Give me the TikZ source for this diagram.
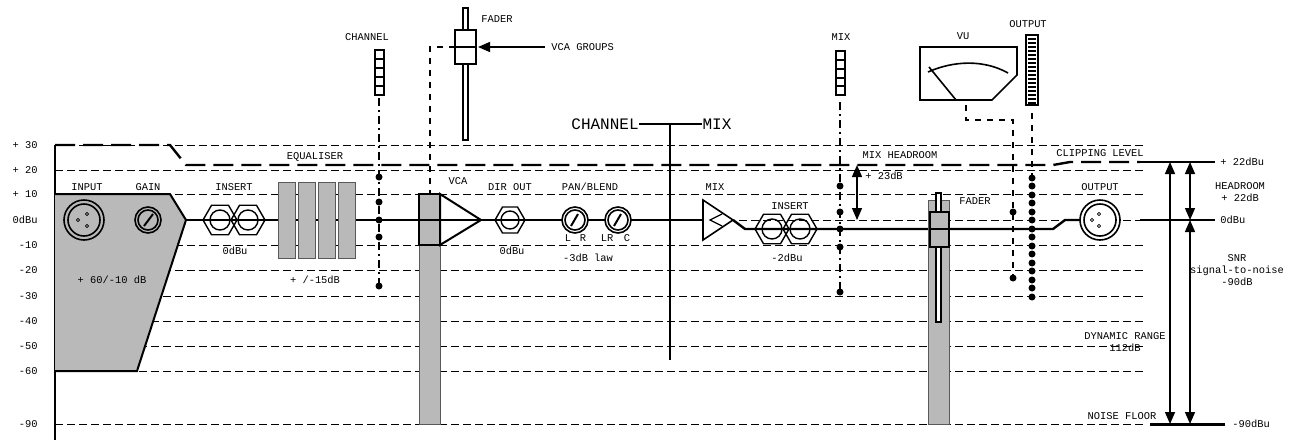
\documentclass[tikz,border=0pt]{standalone}
\usepackage{fontspec}
\setmainfont{Liberation Mono}
\usetikzlibrary{arrows.meta,shapes.geometric}
\begin{document}
\begin{tikzpicture}[x=0.5pt,y=-0.5pt,
 lbl/.style={font=\fontsize{5.2}{6}\selectfont,inner sep=0pt},
 grid/.style={dashed,line width=0.5pt,dash pattern=on 4pt off 2pt},
 sig/.style={line width=1.2pt},
 hexj/.style={regular polygon,regular polygon sides=6,draw,line width=0.7pt,minimum size=17pt,inner sep=0pt},
 dot/.style={circle,fill,inner sep=0pt,minimum size=3.5pt},
 grey/.style={fill=gray!55,draw=gray!70!black,line width=0.5pt},
 ddash/.style={line width=0.7pt,dash pattern=on 4pt off 2pt on 1pt off 2pt},
 arr/.style={-{Triangle[length=6pt,width=5pt]},line width=0.7pt}]
\useasboundingbox (0,0) rectangle (1293,445);
% levels
\foreach \y/\t in {145/+ 30,170/+ 20,194/+ 10,220/0dBu,245/-10,270/-20,296/-30,321/-40,346/-50,371/-60,424/-90}{
 \draw[grid] (55,\y) -- (1146,\y);
 \node[lbl,anchor=east] at (38,\y) {\t};}
\draw[line width=0.7pt] (55,145) -- (55,440);
% input block
\fill[gray!55] (55,194) -- (170,194) -- (186,220) -- (137,371) -- (55,371) -- cycle;
\draw[line width=1pt] (55,194) -- (170,194) -- (186,220) -- (137,371) -- (55,371);
\draw[line width=0.8pt] (84,220) circle (20) (84,220) circle (16);
\foreach \p in {(78,220),(87,214),(87,226)} \draw[line width=0.4pt] \p circle (1.6);
\draw[line width=0.8pt] (148,220) circle (13) (148,220) circle (10);
\draw[line width=1pt] (144,226) -- (153,214);
\node[lbl] at (87,187) {INPUT};
\node[lbl] at (148,187) {GAIN};
\node[lbl] at (112,280) {+ 60/-10 dB};
% clipping
\draw[line width=1.2pt,dash pattern=on 10pt off 4pt] (55,145) -- (170,145) -- (186,165) -- (1053,165) -- (1070,162) -- (1140,162);
\draw[line width=1pt] (1140,162) -- (1215,162);
\node[lbl,anchor=west] at (1220,162) {+ 22dBu};
\node[lbl] at (315,157) {EQUALISER};
\node[lbl] at (1100,153) {CLIPPING LEVEL};
% signal line
\draw[sig] (186,220) -- (703,220);
\draw[sig] (733,220) -- (745,229) -- (1053,229) -- (1065,220) -- (1080,220);
\draw[line width=1pt] (1140,220) -- (1215,220);
\node[lbl,anchor=west] at (1220,220) {0dBu};
% insert
\node[hexj] (i1) at (220,220) {}; \draw[line width=0.7pt] (220,220) circle (10);
\node[hexj] (i2) at (248,220) {}; \draw[line width=0.7pt] (248,220) circle (10);
\node[lbl] at (234,187) {INSERT};
\node[lbl] at (235,251) {0dBu};
% EQ
\foreach \x in {278,298,318,338} \draw[grey] (\x,182) rectangle (\x+17,258);
\node[lbl] at (315,280) {+ /-15dB};
% channel meter
\draw[line width=0.8pt,fill=white] (375,50) rectangle (384,95);
\foreach \y in {59,68,77,86} \draw[line width=0.8pt] (375,\y) -- (384,\y);
\node[lbl] at (367,37) {CHANNEL};
\draw[ddash] (379,98) -- (379,286);
\foreach \y in {177,202,220,237,286} \node[dot] at (379,\y) {};
% VCA
\draw[grey] (419,194) rectangle (440,424);
\draw[line width=1.2pt] (419,194) rectangle (440,245);
\draw[line width=1pt,fill=white] (440,194) -- (481,220) -- (440,245) -- cycle;
\draw[sig] (400,220) -- (481,220);
\node[lbl] at (458,181) {VCA};
\draw[line width=0.8pt,fill=white] (463,8) rectangle (468,140);
\draw[line width=0.8pt,fill=white] (455,30) rectangle (476,64);
\draw[line width=1.2pt] (455,47) -- (476,47);
\draw[dashed,line width=0.6pt] (455,47) -- (430,47) -- (430,194);
\draw[arr] (545,47) -- (478,47);
\node[lbl,anchor=west] at (551,47) {VCA GROUPS};
\node[lbl,anchor=west] at (481,19) {FADER};
% dir out
\node[hexj,minimum size=15pt] at (510,220) {}; \draw[line width=0.7pt] (510,220) circle (9);
\node[lbl] at (510,187) {DIR OUT};
\node[lbl] at (512,251) {0dBu};
% pan
\foreach \x in {575,618}{\draw[line width=0.8pt,fill=white] (\x,220) circle (13) (\x,220) circle (10);
 \draw[line width=1pt] (\x-4,226) -- (\x+3,214);}
\node[lbl] at (590,187) {PAN/BLEND};
\node[lbl] at (568,238) {L}; \node[lbl] at (583,238) {R};
\node[lbl] at (607,238) {LR}; \node[lbl] at (627,238) {C};
\node[lbl] at (588,258) {-3dB law};
% channel / mix
\node[font=\fontsize{8}{9}\selectfont,inner sep=0pt] (chn) at (605,124) {CHANNEL};
\node[font=\fontsize{8}{9}\selectfont,inner sep=0pt] (mx) at (717,124) {MIX};
\draw[line width=0.8pt] (chn.east) -- (mx.west);
\draw[line width=0.8pt] (670,124) -- (670,360);
% mix amp
\draw[line width=0.8pt,fill=white] (703,200) -- (733,220) -- (703,240) -- cycle;
\draw[line width=0.6pt] (722,214) -- (710,220) -- (722,226);
\node[lbl] at (715,187) {MIX};
\node[hexj] at (772,229) {}; \draw[line width=0.7pt] (772,229) circle (10);
\node[hexj] at (800,229) {}; \draw[line width=0.7pt] (800,229) circle (10);
\node[lbl] at (790,206) {INSERT};
\node[lbl] at (787,258) {-2dBu};
% mix meter
\draw[line width=0.8pt,fill=white] (836,51) rectangle (845,95);
\foreach \y in {60,69,78,86} \draw[line width=0.8pt] (836,\y) -- (845,\y);
\node[lbl] at (841,37) {MIX};
\draw[ddash] (840,102) -- (840,292);
\foreach \y in {186,212,229,247,292} \node[dot] at (840,\y) {};
\node[lbl] at (900,155) {MIX HEADROOM};
\draw[arr,{Triangle[length=6pt,width=5pt]}-{Triangle[length=6pt,width=5pt]}] (857,165) -- (857,220);
\node[lbl] at (884,176) {+ 23dB};
% right fader
\draw[grey] (928,200) rectangle (949,424);
\draw[line width=0.6pt,fill=white] (936,193) rectangle (941,322);
\draw[line width=0.8pt,fill=gray!55] (930,212) rectangle (949,247);
\draw[line width=1.2pt] (930,229) -- (949,229);
\node[lbl] at (975,201) {FADER};
% VU
\draw[line width=0.8pt,fill=white] (920,47) -- (1017,47) -- (1017,75) -- (992,100) -- (920,100) -- cycle;
\draw[line width=0.8pt] (928,72) .. controls (955,60) and (985,60) .. (1008,73);
\draw[line width=0.8pt] (929,67) -- (956,100);
\node[lbl] at (963,36) {VU};
\draw[dashed,line width=0.6pt] (966,105) -- (966,120) -- (1013,120) -- (1013,278);
\foreach \y in {212,278} \node[dot] at (1013,\y) {};
% output meter
\draw[line width=0.8pt,fill=white] (1026,35) rectangle (1038,105);
\foreach \y in {39,43,...,103} \draw[line width=0.8pt] (1028,\y) -- (1036,\y);
\node[lbl] at (1028,24) {OUTPUT};
\draw[dashed,line width=0.6pt] (1032,113) -- (1032,178);
\foreach \y in {178,195,...,305} \node[dot] at (1032,\y) {};
\foreach \y in {186,203,...,300} \node[dot] at (1032,\y) {};
% output connector
\draw[line width=0.8pt,fill=white] (1100,220) circle (20) (1100,220) circle (16);
\foreach \p in {(1092,220),(1099,214),(1099,226)} \draw[line width=0.4pt] \p circle (1.6);
\node[lbl] at (1100,187) {OUTPUT};
% right arrows
\draw[arr,{Triangle[length=6pt,width=5pt]}-{Triangle[length=6pt,width=5pt]}] (1170,162) -- (1170,424);
\draw[arr,{Triangle[length=6pt,width=5pt]}-{Triangle[length=6pt,width=5pt]}] (1190,162) -- (1190,220);
\draw[arr,{Triangle[length=6pt,width=5pt]}-{Triangle[length=6pt,width=5pt]}] (1190,220) -- (1190,424);
\draw[line width=1.5pt] (1150,424) -- (1225,424);
\node[lbl,anchor=west] at (1232,424) {-90dBu};
\node[lbl,align=center] at (1240,192) {HEADROOM\\+ 22dB};
\node[lbl,align=center] at (1237,270) {SNR\\signal-to-noise\\-90dB};
\node[lbl,align=center] at (1125,342) {DYNAMIC RANGE\\112dB};
\node[lbl] at (1122,416) {NOISE FLOOR};
\end{tikzpicture}
\end{document}
